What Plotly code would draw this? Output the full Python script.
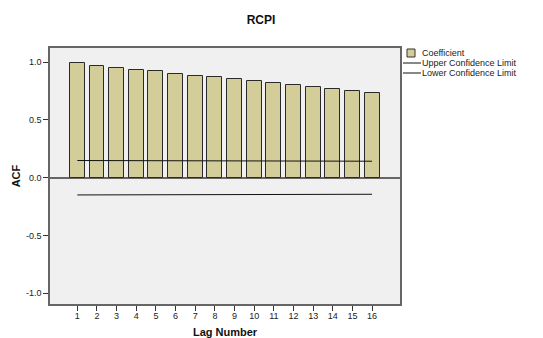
import plotly.graph_objects as go

# ACF of RCPI by lag
lags = list(range(1, 17))
acf = [0.99, 0.97, 0.953, 0.936, 0.92, 0.90, 0.884, 0.869, 0.852, 0.836, 0.82, 0.80, 0.785, 0.768, 0.752, 0.736]
upper_limit = [0.149, 0.149, 0.148, 0.148, 0.147, 0.147, 0.147, 0.146, 0.146, 0.145, 0.145, 0.145, 0.144, 0.144, 0.143, 0.143]
lower_limit = [-v for v in upper_limit]
y_ticks = [-1.0, -0.5, 0.0, 0.5, 1.0]
legend_labels = ["Coefficient", "Upper Confidence Limit", "Lower Confidence Limit"]

FONT = "Liberation Sans, Arial, sans-serif"
BAR_FILL = "#D3CE99"

W, H = 543, 338
M_L, M_R, M_T, M_B = 50, 143, 48, 34

fig = go.Figure()
fig.add_trace(go.Bar(
    x=lags, y=acf, width=0.76,
    marker=dict(color=BAR_FILL, line=dict(color="#2a2a2a", width=1)),
    name=legend_labels[0], showlegend=False,
))
fig.add_trace(go.Scatter(
    x=lags, y=upper_limit, mode="lines",
    line=dict(color="#111111", width=1), name=legend_labels[1], showlegend=False,
))
fig.add_trace(go.Scatter(
    x=lags, y=lower_limit, mode="lines",
    line=dict(color="#111111", width=1), name=legend_labels[2], showlegend=False,
))

fig.update_layout(
    width=W, height=H,
    margin=dict(l=M_L, r=M_R, t=M_T, b=M_B),
    paper_bgcolor="white", plot_bgcolor="#F0F0F0",
    font=dict(family=FONT, size=9, color="#222222"),
    title=dict(text="<b>RCPI</b>", x=261 / W, xanchor="center", y=1 - 20 / H, yanchor="middle",
               font=dict(family=FONT, size=12, color="#111111")),
    bargap=0,
)
fig.update_xaxes(
    range=[-0.39, 17.42], tickmode="array", tickvals=lags, ticktext=[str(v) for v in lags],
    ticks="outside", ticklen=5, tickcolor="#333333", tickwidth=1, ticklabelstandoff=-3,
    showline=True, linecolor="#666666", linewidth=1.5, mirror=True,
    showgrid=False, zeroline=False, automargin=False,
    tickfont=dict(size=9, color="#222222"),
    title=dict(text="<b>Lag Number</b>", font=dict(size=11, color="#111111"), standoff=16),
)
fig.update_yaxes(
    range=[-1.093, 1.123], tickmode="array", tickvals=y_ticks, ticktext=[f"{v:.1f}" for v in y_ticks],
    ticks="outside", ticklen=5, tickcolor="#333333", tickwidth=1,
    showline=True, linecolor="#666666", linewidth=1.5, mirror=True,
    showgrid=False, zeroline=True, zerolinecolor="#666666", zerolinewidth=1.5, automargin=False,
    tickfont=dict(size=9, color="#222222"),
    title=dict(text="<b>ACF</b>", font=dict(size=11, color="#111111"), standoff=3),
)

# Compact legend to the right of the plot area (paper coords are relative to the plot area)
plot_w = W - M_L - M_R
plot_h = H - M_T - M_B

def px_x(p):
    return (p - M_L) / plot_w

def px_y(p):
    return (H - M_B - p) / plot_h

legend_rows = [53, 63, 73]
fig.add_shape(type="rect", xref="paper", yref="paper",
              x0=px_x(407), x1=px_x(415), y0=px_y(57), y1=px_y(49),
              fillcolor=BAR_FILL, line=dict(color="#333333", width=1))
for yy in legend_rows[1:]:
    fig.add_shape(type="line", xref="paper", yref="paper",
                  x0=px_x(403), x1=px_x(421), y0=px_y(yy), y1=px_y(yy),
                  line=dict(color="#111111", width=1))
for label, yy in zip(legend_labels, legend_rows):
    fig.add_annotation(text=label, xref="paper", yref="paper", x=px_x(420), y=px_y(yy),
                       xanchor="left", yanchor="middle", showarrow=False,
                       font=dict(family=FONT, size=9, color="#222222"))

fig.write_html("out.html")
